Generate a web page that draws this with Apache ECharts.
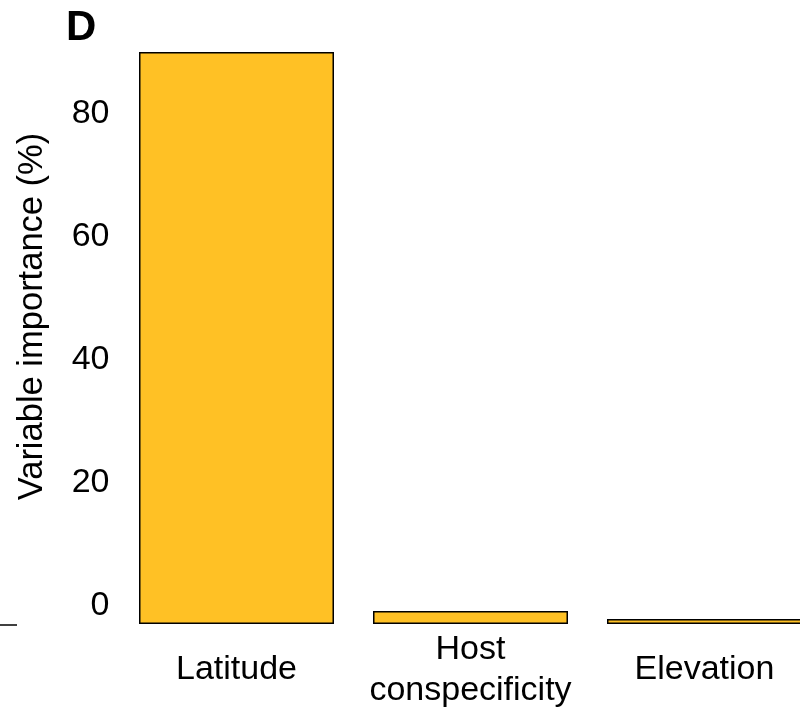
<!DOCTYPE html>
<html>
<head>
<meta charset="utf-8">
<script src="https://cdn.jsdelivr.net/npm/echarts@6/dist/echarts.min.js"></script>
<style>
  html, body { margin: 0; padding: 0; background: #fff; }
  #chart { width: 800px; height: 715px; }
</style>
</head>
<body>
<div id="chart"></div>
<script>
// ---- data ----
const categories = ['Latitude', 'Host\nconspecificity', 'Elevation'];
const importance = [93.0, 2.1, 0.8];
const yTickLabels = [0, 20, 40, 60, 80];
const panelLabel = 'D';
const yTitle = 'Variable importance (%)';

const FONT = "'Liberation Sans', Arial, Helvetica, sans-serif";

const chart = echarts.init(document.getElementById('chart'), null, { renderer: 'canvas' });
chart.setOption({
  animation: false,
  backgroundColor: '#ffffff',
  title: {
    text: panelLabel,
    left: 61,
    top: 2,
    textStyle: { fontFamily: FONT, fontSize: 42, fontWeight: 'bold', color: '#000' }
  },
  grid: {
    left: 119.5, width: 702, top: 9, bottom: 91,
    containLabel: false,
    outerBoundsMode: 'none'
  },
  xAxis: {
    type: 'category',
    data: categories,
    axisLine: { show: false },
    axisTick: { show: false },
    axisLabel: {
      interval: 0,
      margin: 46,
      verticalAlign: 'middle',
      fontFamily: FONT,
      fontSize: 34,
      lineHeight: 41,
      color: '#000'
    }
  },
  yAxis: {
    type: 'value',
    min: 0,
    max: 100,
    interval: 20,
    splitLine: { show: false },
    axisLine: { show: false },
    axisTick: { show: false },
    axisLabel: {
      margin: 10,
      fontFamily: FONT,
      fontSize: 34,
      color: '#000',
      verticalAlign: 'bottom',
      lineHeight: 36,
      formatter: v => (yTickLabels.indexOf(v) >= 0 ? String(v) : '')
    },
    name: yTitle,
    nameLocation: 'middle',
    nameRotate: 90,
    nameGap: 70,
    nameTextStyle: { fontFamily: FONT, fontSize: 34.5, color: '#000' }
  },
  graphic: [
    {
      type: 'line',
      shape: { x1: 0, y1: 625, x2: 17, y2: 625 },
      style: { stroke: '#000', lineWidth: 1.5 }
    }
  ],
  series: [{
    type: 'bar',
    data: importance,
    barCategoryGap: '16.67%',
    itemStyle: { color: '#FFC125', borderColor: '#000', borderWidth: 1.5 }
  }]
});
</script>
</body>
</html>
